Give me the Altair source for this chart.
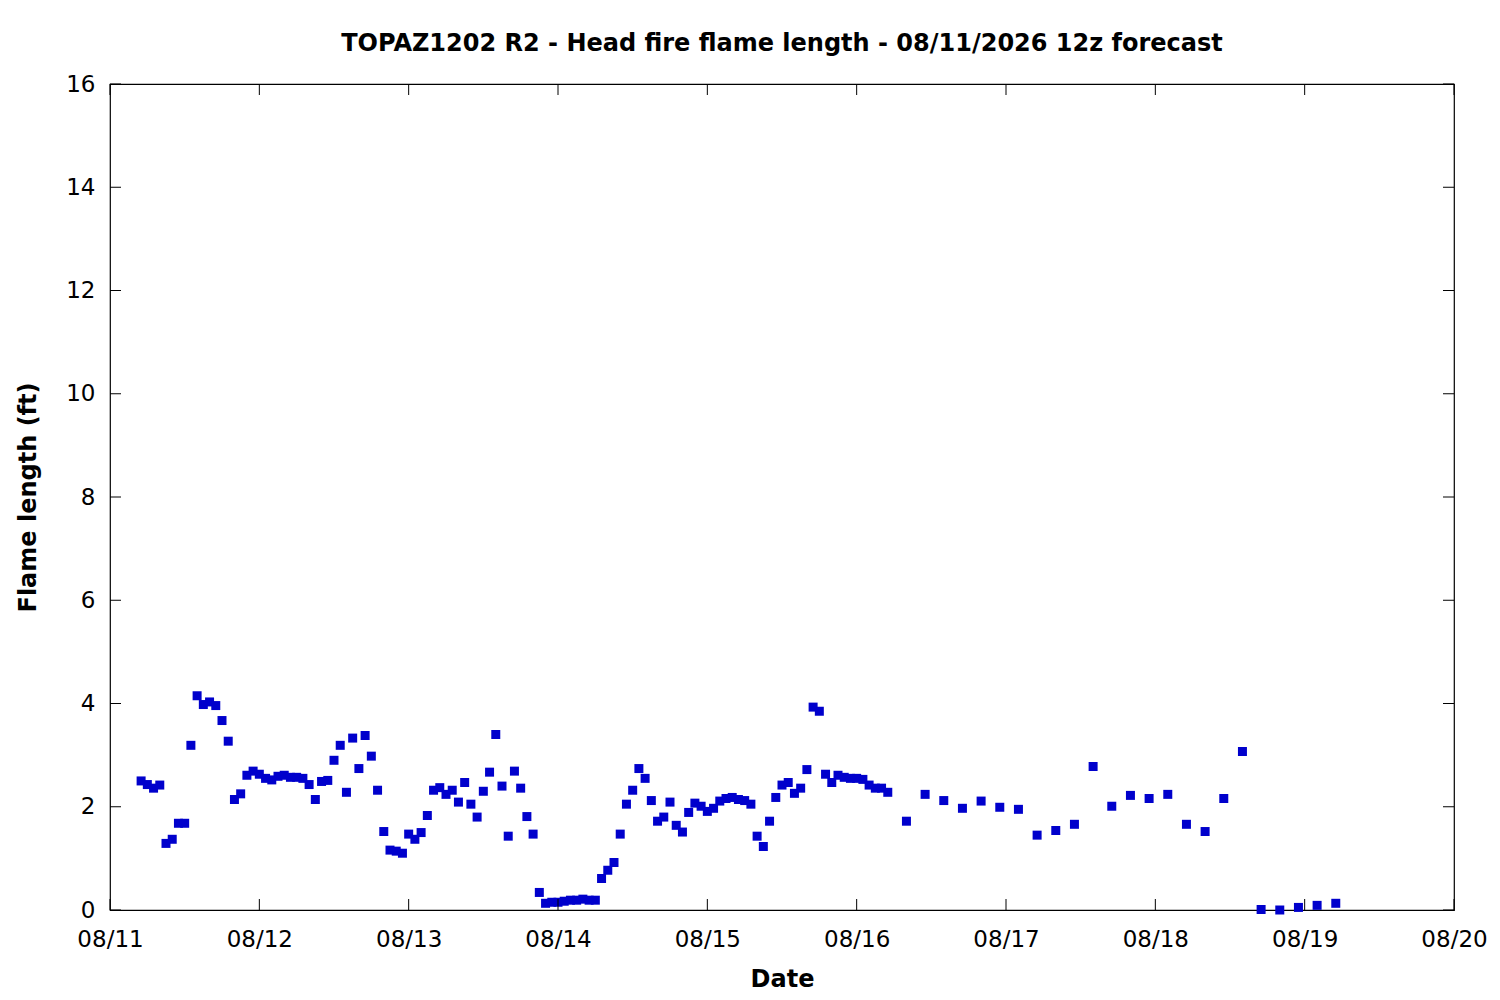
import altair as alt
import pandas as pd

# Hourly forecast (08/11 05z .. 08/16 05z), then 3-hourly (08/16 08z .. 08/19 05z)
hourly_values = [
    2.50, 2.43, 2.36, 2.42, 1.29, 1.37, 1.68, 1.68, 3.19, 4.15,
    3.98, 4.03, 3.96, 3.67, 3.27, 2.14, 2.25, 2.61, 2.69, 2.63,
    2.55, 2.52, 2.59, 2.61, 2.57, 2.57, 2.55, 2.43, 2.14, 2.49,
    2.51, 2.90, 3.19, 2.28, 3.33, 2.74, 3.38, 2.98, 2.32, 1.52,
    1.16, 1.14, 1.10, 1.47, 1.37, 1.50, 1.83, 2.32, 2.37, 2.24,
    2.32, 2.09, 2.47, 2.05, 1.80, 2.30, 2.67, 3.40, 2.40, 1.43,
    2.69, 2.36, 1.81, 1.47, 0.34, 0.13, 0.15, 0.15, 0.17, 0.19,
    0.19, 0.21, 0.19, 0.19, 0.61, 0.77, 0.92, 1.47, 2.05, 2.32,
    2.74, 2.55, 2.12, 1.72, 1.80, 2.09, 1.64, 1.51, 1.89, 2.07,
    2.01, 1.91, 1.97, 2.11, 2.16, 2.18, 2.14, 2.12, 2.05, 1.43,
    1.23, 1.72, 2.18, 2.42, 2.47, 2.26, 2.36, 2.72, 3.93, 3.85,
    2.63, 2.47, 2.61, 2.57, 2.55, 2.55, 2.53, 2.42, 2.36, 2.36,
    2.28,
]
three_hourly_values = [
    1.72, 2.24, 2.12, 1.97, 2.11, 1.99, 1.95, 1.45, 1.54, 1.66,
    2.78, 2.01, 2.22, 2.16, 2.24, 1.66, 1.52, 2.16, 3.07, 0.01,
    0.00, 0.05, 0.09, 0.13,
]

hourly_times = pd.date_range("2026-08-11 05:00", periods=len(hourly_values), freq="h")
three_hourly_times = pd.date_range("2026-08-16 08:00", periods=len(three_hourly_values), freq="3h")

times = [t.strftime("%Y-%m-%dT%H:%M:%SZ") for t in list(hourly_times) + list(three_hourly_times)]
values = hourly_values + three_hourly_values

day_ticks = [f"2026-08-{d:02d}T00:00:00Z" for d in range(11, 21)]
y_ticks = [0, 2, 4, 6, 8, 10, 12, 14, 16]

TITLE = "TOPAZ1202 R2 - Head fire flame length - 08/11/2026 12z forecast"
FONT = "DejaVu Sans"
W, H = 1344, 826
TICK = 11

df = pd.DataFrame({"t": times, "ft": values})
xticks_df = pd.DataFrame({"t": day_ticks})
yticks_df = pd.DataFrame({"ft": y_ticks})

xscale = alt.Scale(
    type="utc",
    domain=[alt.DateTime(year=2026, month=8, date=11, utc=True),
            alt.DateTime(year=2026, month=8, date=20, utc=True)],
)
yscale = alt.Scale(domain=[0, 16], nice=False, zero=False)

x_axis = alt.Axis(
    values=[alt.DateTime(year=2026, month=8, date=d, utc=True) for d in range(11, 21)],
    labelExpr="utcFormat(datum.value, '%m/%d')",
    title="Date",
    titleFontWeight="bold",
    titleFontSize=24,
    titleX=W / 2,
    titleY=76,
    titleBaseline="alphabetic",
    titleAlign="center",
    labelFontSize=23,
    labelPadding=18,
    labelColor="black",
    titleColor="black",
    ticks=False,
    tickSize=0,
    domain=False,
    grid=False,
    labelFlush=False,
    labelOverlap=False,
)
y_axis = alt.Axis(
    values=y_ticks,
    title="Flame length (ft)",
    titleFontWeight="bold",
    titleFontSize=24,
    titleAngle=270,
    titleX=-75,
    titleY=H / 2,
    titleBaseline="alphabetic",
    titleAlign="center",
    labelFontSize=23,
    labelPadding=15,
    labelColor="black",
    titleColor="black",
    ticks=False,
    tickSize=0,
    domain=False,
    grid=False,
    labelFlush=False,
    labelOverlap=False,
)

points = alt.Chart(df).mark_square(size=81, color="#0000CC", opacity=1).encode(
    x=alt.X("t:T", scale=xscale, axis=x_axis),
    y=alt.Y("ft:Q", scale=yscale, axis=y_axis),
)

tick_color = "black"
xt_bottom = alt.Chart(xticks_df).mark_rule(color=tick_color, strokeWidth=1).encode(
    x=alt.X("t:T"), y=alt.value(H), y2=alt.value(H - TICK)
)
xt_top = alt.Chart(xticks_df).mark_rule(color=tick_color, strokeWidth=1).encode(
    x=alt.X("t:T"), y=alt.value(0), y2=alt.value(TICK)
)
yt_left = alt.Chart(yticks_df).mark_rule(color=tick_color, strokeWidth=1).encode(
    y=alt.Y("ft:Q"), x=alt.value(0), x2=alt.value(TICK)
)
yt_right = alt.Chart(yticks_df).mark_rule(color=tick_color, strokeWidth=1).encode(
    y=alt.Y("ft:Q"), x=alt.value(W - TICK), x2=alt.value(W)
)

chart = (
    alt.layer(points, xt_bottom, xt_top, yt_left, yt_right)
    .properties(
        width=W,
        height=H,
        title=alt.TitleParams(
            TITLE,
            fontSize=24,
            fontWeight="bold",
            font=FONT,
            color="black",
            anchor="middle",
            frame="group",
            baseline="alphabetic",
            offset=8,
            dy=10,
        ),
        autosize=alt.AutoSizeParams(type="none"),
        padding={"left": 102, "top": 76, "right": 38, "bottom": 82},
    )
    .configure(font=FONT, background="white")
    .configure_view(stroke="black", strokeWidth=1.2)
    .configure_axis(labelFont=FONT, titleFont=FONT)
)

chart.save("out.html", embed_options={"renderer": "svg", "actions": False})
